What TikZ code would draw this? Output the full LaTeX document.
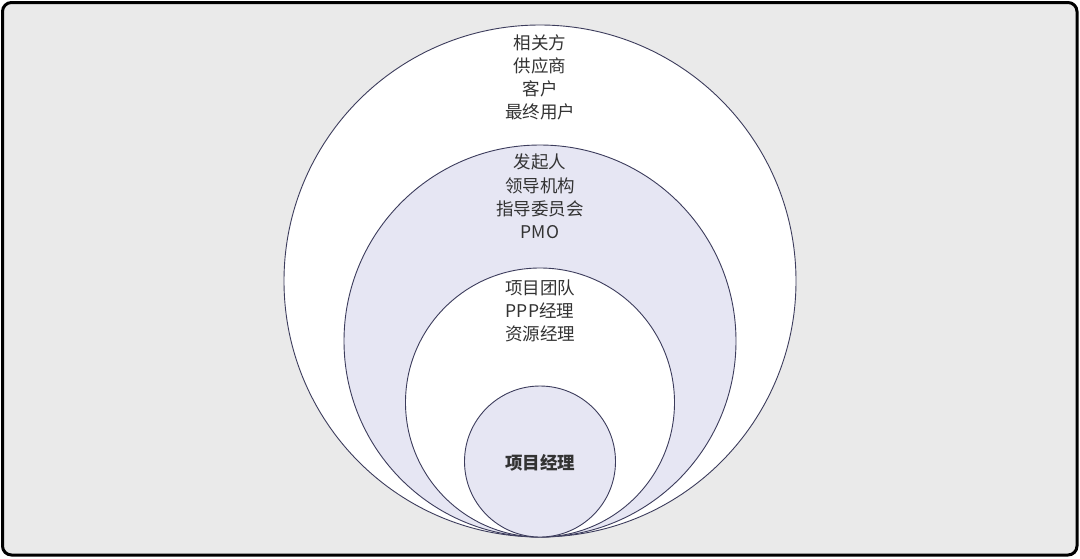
\documentclass[tikz,border=0pt]{standalone}
\usepackage{fontspec}
\setmainfont{Noto Sans CJK SC}
\newfontfamily\cjk{Noto Sans CJK SC}
\definecolor{bg}{HTML}{EAEAEA}
\definecolor{lav}{HTML}{E6E6F3}
\definecolor{ring}{HTML}{3C3C5C}
\definecolor{txt}{HTML}{333333}
\begin{document}
\begin{tikzpicture}[x=1pt,y=-1pt,
  ringc/.style={circle,draw=ring,line width=0.9pt,inner sep=0pt},
  lbl/.style={align=center,text=txt,font=\fontsize{17.5}{23.2}\selectfont\cjk,inner sep=0pt}]
\useasboundingbox (0,0) rectangle (1080,558);
\draw[line width=3pt,black,fill=bg,rounded corners=9pt] (2.5,2.5) rectangle (1077,555);
\node[ringc,fill=white,minimum size=512pt] (c1) at (540,281) {};
\node[ringc,fill=lav,minimum size=392pt] (c2) at (540,341) {};
\node[ringc,fill=white,minimum size=269pt] (c3) at (540,402.5) {};
\node[ringc,fill=lav,minimum size=151pt] (c4) at (540,461.5) {};
\node[lbl,anchor=center] (t1) at (540,77.5) {相关方\\供应商\\客户\\最终用户};
\node[lbl,anchor=center] (t2) at (540,196.5) {发起人\\领导机构\\指导委员会\\PMO};
\node[lbl,anchor=center] (t3) at (540,311) {项目团队\\PPP经理\\资源经理};
\node[lbl,anchor=center,font=\fontsize{17.5}{23}\selectfont\cjk\bfseries] (t4) at (540,463) {项目经理};
\end{tikzpicture}
\end{document}
